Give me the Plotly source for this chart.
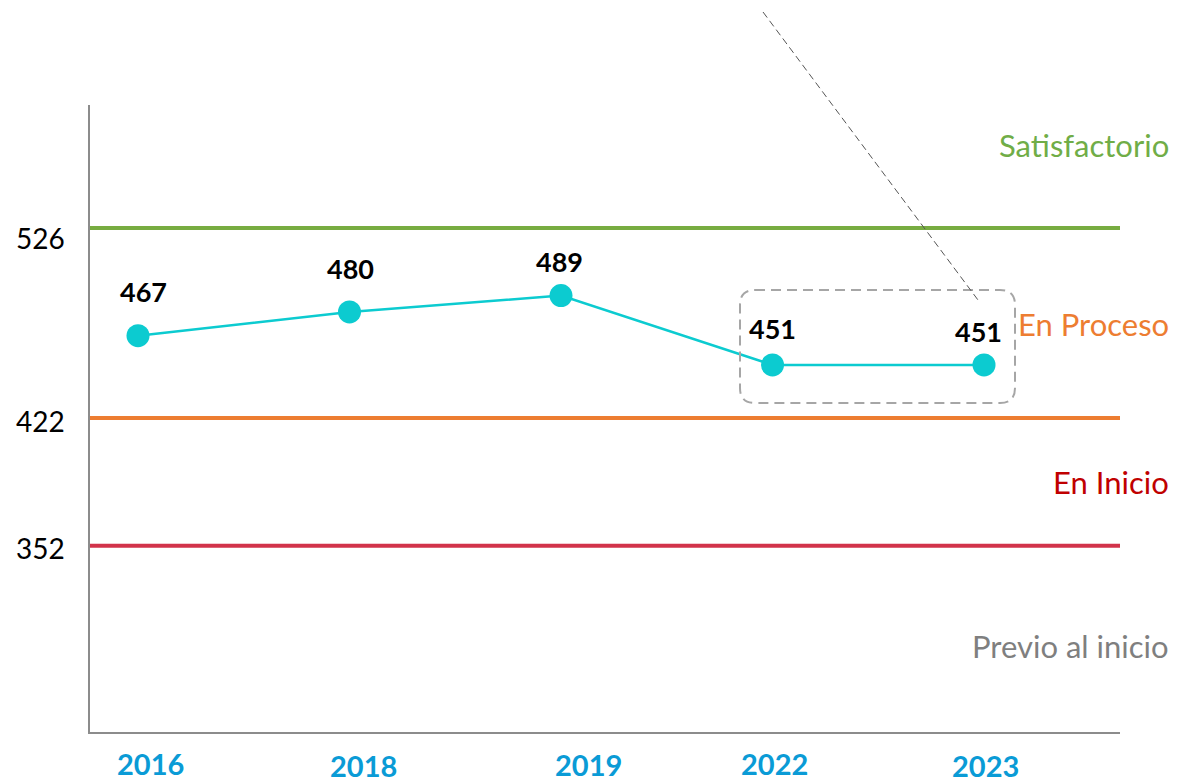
import plotly.graph_objects as go

YEARS = ["2016", "2018", "2019", "2022", "2023"]
SCORES = [467, 480, 489, 451, 451]

LEVEL_CUTS = [526, 422, 352]
LEVEL_CUT_COLORS = ["#77AC41", "#ED7D31", "#D2334A"]

LEVEL_NAMES = ["Satisfactorio", "En Proceso", "En Inicio", "Previo al inicio"]
LEVEL_NAME_COLORS = ["#70AD47", "#ED7D31", "#C00000", "#7F7F7F"]
LEVEL_NAME_Y = [571.5, 473.5, 387, 297]

FONT = "Lato"
LINE_COLOR = "#0CCBD0"

fig = go.Figure()

fig.add_trace(
    go.Scatter(
        x=list(range(len(YEARS))),
        y=SCORES,
        mode="lines+markers",
        line=dict(color=LINE_COLOR, width=2.5),
        marker=dict(color=LINE_COLOR, size=23),
        showlegend=False,
        hoverinfo="skip",
    )
)

shapes = []
# horizontal level thresholds
for cut, color in zip(LEVEL_CUTS, LEVEL_CUT_COLORS):
    shapes.append(
        dict(type="line", xref="paper", yref="y", x0=0, x1=1, y0=cut, y1=cut,
             line=dict(color=color, width=4), layer="below")
    )


# pixel -> paper helpers for the hand-drawn overlays
def px(xp):
    return (xp - 90) / 1030


def py(yp):
    return (732 - yp) / 627


x0, x1, y0, y1 = px(740), px(1015), py(403), py(290)
rx, ry = 15 / 1030, 15 / 627
path = (
    f"M {x0 + rx},{y1} L {x1 - rx},{y1} Q {x1},{y1} {x1},{y1 - ry} "
    f"L {x1},{y0 + ry} Q {x1},{y0} {x1 - rx},{y0} "
    f"L {x0 + rx},{y0} Q {x0},{y0} {x0},{y0 + ry} "
    f"L {x0},{y1 - ry} Q {x0},{y1} {x0 + rx},{y1} Z"
)
shapes.append(
    dict(type="path", xref="paper", yref="paper", path=path,
         line=dict(color="#A6A6A6", width=2, dash="10px,6px"))
)
# thin dashed leader line
shapes.append(
    dict(type="line", xref="paper", yref="paper",
         x0=px(763), y0=py(12), x1=px(978), y1=py(300),
         line=dict(color="#555555", width=1, dash="7px,4px"))
)

annotations = []
label_dx = [5, 1, -2, 0, -6]
label_dy = [44, 43, 34, 36, 33]
for i, val in enumerate(SCORES):
    annotations.append(
        dict(x=i, y=val, xref="x", yref="y", text=f"<b>{val}</b>", showarrow=False,
             xshift=label_dx[i], yshift=label_dy[i],
             font=dict(family=FONT, size=27, color="#000000"))
    )

# y labels sit a little below their threshold lines in the original
tick_dy = [-10, -3, -2]
for cut, dy in zip(LEVEL_CUTS, tick_dy):
    annotations.append(
        dict(x=px(67), y=cut, xref="paper", yref="y", text=str(cut), showarrow=False,
             xanchor="right", yanchor="middle", yshift=dy,
             font=dict(family=FONT, size=28, color="#000000"))
    )

year_dx = [12, 14, 27, 2, 1]
year_dy = [-31, -33, -32, -31, -33]
for i, yr in enumerate(YEARS):
    annotations.append(
        dict(x=i, y=0, xref="x", yref="paper", text=f"<b>{yr}</b>", showarrow=False,
             xshift=year_dx[i], yshift=year_dy[i], yanchor="middle",
             font=dict(family=FONT, size=29, color="#0A9BD6"))
    )

for name, color, yv in zip(LEVEL_NAMES, LEVEL_NAME_COLORS, LEVEL_NAME_Y):
    annotations.append(
        dict(x=px(1171), y=yv, xref="paper", yref="y", text=name, showarrow=False,
             xanchor="right", yanchor="middle",
             font=dict(family=FONT, size=31, color=color))
    )

fig.update_layout(
    width=1177,
    height=782,
    margin=dict(l=90, r=57, t=105, b=50),
    paper_bgcolor="white",
    plot_bgcolor="white",
    shapes=shapes,
    annotations=annotations,
    font=dict(family=FONT, color="#000000"),
)

fig.update_xaxes(
    range=[-0.227, 4.643],
    showticklabels=False,
    ticks="",
    showgrid=False,
    zeroline=False,
    showline=True,
    linecolor="#8C8C8C",
    linewidth=1.5,
)
fig.update_yaxes(
    range=[250.1, 593.3],
    showticklabels=False,
    ticks="",
    showgrid=False,
    zeroline=False,
    showline=True,
    linecolor="#8C8C8C",
    linewidth=1.5,
)

fig.write_html(
    "out.html",
    config={"displayModeBar": False},
    post_script="document.body.style.margin='0';document.body.style.overflow='hidden';",
)
